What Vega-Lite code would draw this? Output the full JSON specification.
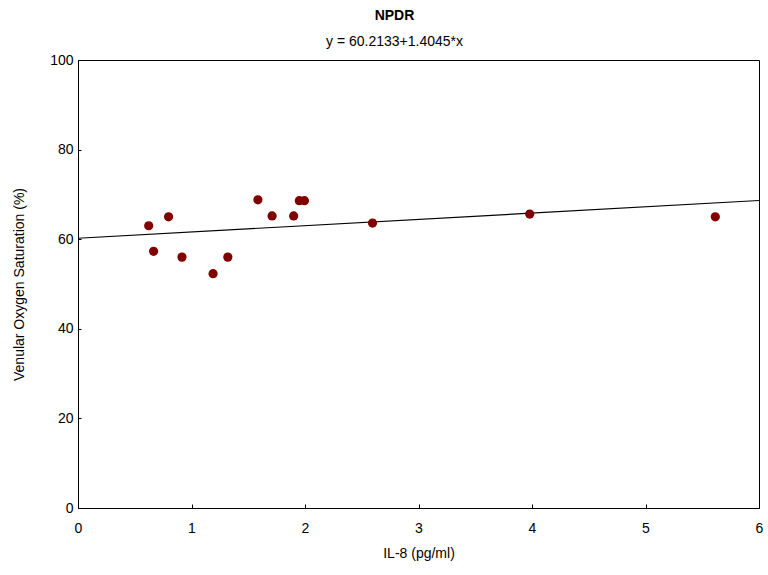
{
  "$schema": "https://vega.github.io/schema/vega-lite/v6.json",
  "autosize": "none",
  "width": 681,
  "height": 448,
  "padding": {"left": 78, "top": 60, "right": 9, "bottom": 67},
  "background": "white",
  "config": {
    "font": "Liberation Sans",
    "view": {"stroke": "black", "strokeWidth": 1},
    "axis": {"grid": false, "domainColor": "black", "tickColor": "black", "labelColor": "black", "titleColor": "black", "labelFontSize": 14, "titleFontSize": 14, "titleFontWeight": "normal", "labelFont": "Liberation Sans", "titleFont": "Liberation Sans", "labelFlush": false}
  },
  "title": {
    "text": "NPDR",
    "subtitle": "y = 60.2133+1.4045*x",
    "anchor": "middle",
    "dx": -24,
    "offset": 4,
    "fontSize": 14,
    "fontWeight": "bold",
    "subtitleFontSize": 14,
    "subtitleColor": "black",
    "color": "black",
    "subtitlePadding": 12,
    "font": "Liberation Sans",
    "subtitleFont": "Liberation Sans"
  },
  "datasets": {
    "pts": [
      {"il8": 0.623, "sat": 63.0},
      {"il8": 0.666, "sat": 57.3},
      {"il8": 0.798, "sat": 65.0},
      {"il8": 0.916, "sat": 56.0},
      {"il8": 1.19, "sat": 52.3},
      {"il8": 1.32, "sat": 56.0},
      {"il8": 1.585, "sat": 68.8},
      {"il8": 1.71, "sat": 65.2},
      {"il8": 1.90, "sat": 65.2},
      {"il8": 1.95, "sat": 68.6},
      {"il8": 1.995, "sat": 68.6},
      {"il8": 2.595, "sat": 63.6},
      {"il8": 3.98, "sat": 65.6},
      {"il8": 5.615, "sat": 65.0}
    ],
    "fit": [
      {"il8": 0, "sat": 60.2133},
      {"il8": 6, "sat": 68.6403}
    ]
  },
  "layer": [
    {
      "data": {"name": "fit"},
      "mark": {"type": "line", "color": "black", "strokeWidth": 1.2},
      "encoding": {
        "x": {"field": "il8", "type": "quantitative", "scale": {"domain": [0, 6], "nice": false}, "axis": {"title": "IL-8 (pg/ml)", "tickSize": -4, "values": [0,1,2,3,4,5,6], "format": "d", "labelPadding": 17, "titlePadding": 11}},
        "y": {"field": "sat", "type": "quantitative", "scale": {"domain": [0, 100], "nice": false}, "axis": {"title": "Venular Oxygen Saturation (%)", "tickSize": -3, "values": [0,20,40,60,80,100], "labelPadding": 8, "titlePadding": 23}}
      }
    },
    {
      "data": {"name": "pts"},
      "mark": {"type": "circle", "color": "#800000", "opacity": 1, "size": 85},
      "encoding": {
        "x": {"field": "il8", "type": "quantitative"},
        "y": {"field": "sat", "type": "quantitative"}
      }
    }
  ]
}
